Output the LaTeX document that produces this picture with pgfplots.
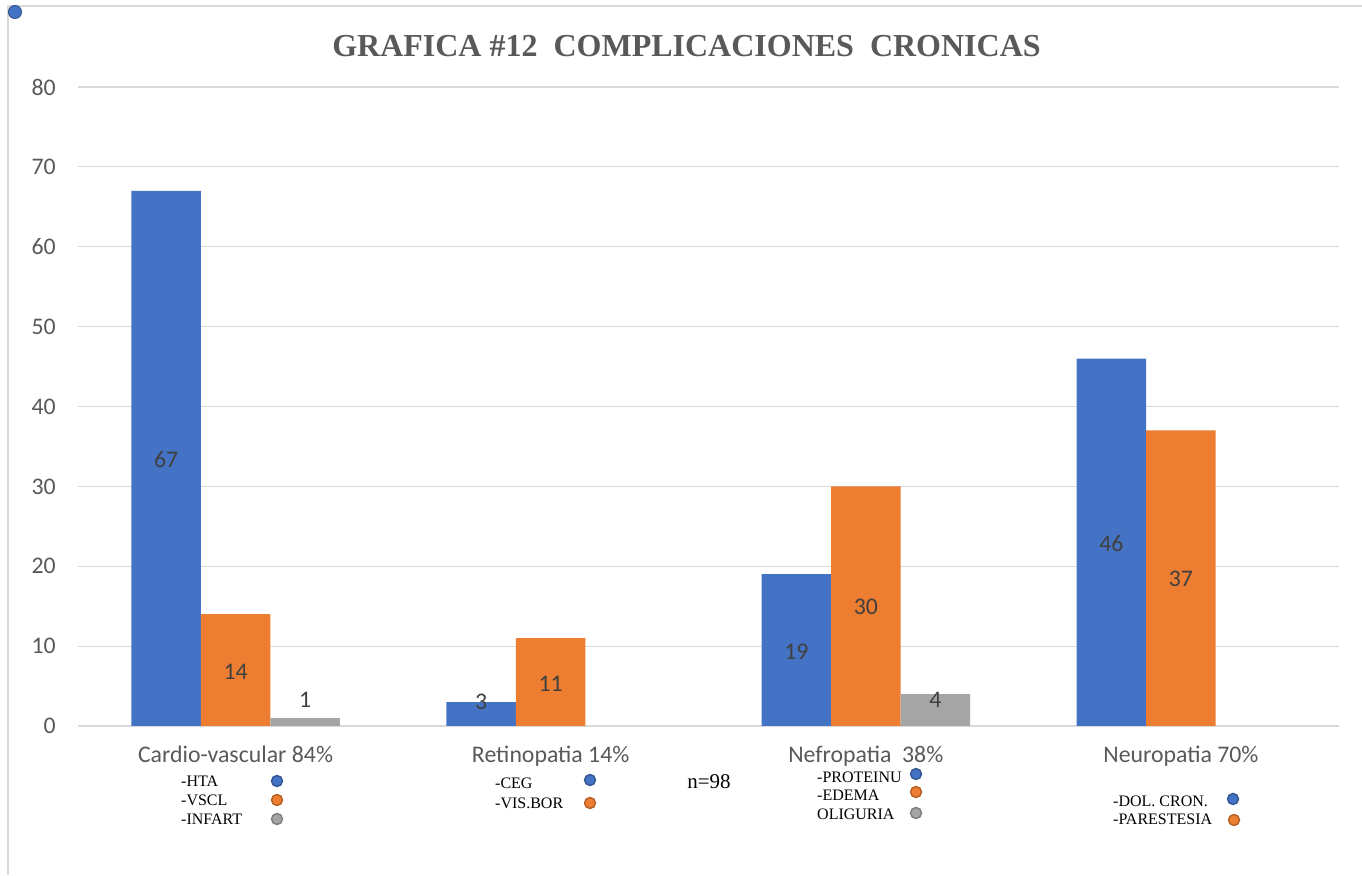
\documentclass[border=0pt]{standalone}
\usepackage{fontspec}
\setmainfont{Carlito}
\newfontfamily\tnr{Liberation Serif}
\usepackage{pgfplots}
\pgfplotsset{compat=1.18}
\definecolor{cblue}{HTML}{4472C4}
\definecolor{corange}{HTML}{ED7D31}
\definecolor{cgray}{HTML}{A5A5A5}
\definecolor{gridc}{HTML}{D9D9D9}
\definecolor{tickc}{HTML}{595959}
\definecolor{labc}{HTML}{404040}
\begin{document}
\begin{tikzpicture}[x=1pt,y=1pt]
\path[use as bounding box] (0,0) rectangle (1362,875);
\draw[gridc, line width=1.2pt] (8,0) -- (8,869) -- (1362,869);
\begin{axis}[at={(78pt,149pt)}, anchor=south west, scale only axis,
  width=1260.5pt, height=639pt,
  xmin=-0.5, xmax=3.5, ymin=0, ymax=80,
  axis line style={draw=none},
  ytick={0,10,...,80}, xtick={0,1,2,3},
  xticklabels={Cardio-vascular 84\%, Retinopatia 14\%, Nefropatia\ \ 38\%, Neuropatia 70\%},
  major tick length=0pt,
  ymajorgrids, grid style={gridc, line width=1.2pt},
  tick label style={font=\fontsize{23.8pt}{28pt}\selectfont, text=tickc},
  /pgf/number format/assume math mode=true,
  yticklabel style={anchor=east, inner sep=0pt, xshift=-22pt},
  xticklabel style={anchor=north, inner sep=0pt, yshift=-20pt},
  clip=false]
\addplot[ybar, bar width=69.5pt, bar shift=-69.5pt, fill=cblue, draw=none] coordinates {(0,67)(1,3)(2,19)(3,46)};
\addplot[ybar, bar width=69.5pt, bar shift=0pt, fill=corange, draw=none] coordinates {(0,14)(1,11)(2,30)(3,37)};
\addplot[ybar, bar width=69.5pt, bar shift=69.5pt, fill=cgray, draw=none] coordinates {(0,1)(2,4)};
\addplot[draw=none, mark=none, nodes near coords, point meta=explicit symbolic,
  every node near coord/.append style={anchor=center, inner sep=0pt, font=\fontsize{23.8pt}{28pt}\selectfont, text=labc}]
  coordinates {(-0.2205,33.3)[67] (0.7795,3.0)[3] (1.7795,9.26)[19] (2.7795,22.8)[46]
               (0,6.76)[14] (1,5.26)[11] (2,14.9)[30] (3,18.4)[37]
               (0.2205,3.26)[1] (2.2205,3.26)[4]};
\end{axis}
\node[font=\tnr\bfseries\fontsize{32pt}{38pt}\selectfont, text=tickc] at (686.5,829) {GRAFICA \#12\ \ COMPLICACIONES\ \ CRONICAS};
\fill[cblue, draw=cblue!75!black, line width=1pt] (15,863) circle (6.5);
\tikzset{lt/.style={anchor=west, inner sep=0pt, font=\tnr\fontsize{16pt}{19pt}\selectfont, text=black}}
\node[lt] at (181,94) {-HTA};
\node[lt] at (181,75) {-VSCL};
\node[lt] at (181,56) {-INFART};
\node[lt] at (495,92) {-CEG};
\node[lt] at (495,72) {-VIS.BOR};
\node[lt] at (817,98) {-PROTEINU};
\node[lt] at (817,80) {-EDEMA};
\node[lt] at (817,61) {OLIGURIA};
\node[lt] at (1113,74) {-DOL. CRON.};
\node[lt] at (1113,56) {-PARESTESIA};
\node[font=\tnr\fontsize{21pt}{25pt}\selectfont, inner sep=0pt] at (709,93) {n=98};
\tikzset{lc/.style={line width=1.4pt}}
\filldraw[lc, fill=cblue, draw=cblue!75!black] (277,94) circle (5.5);
\filldraw[lc, fill=corange, draw=corange!75!black] (277,75) circle (5.5);
\filldraw[lc, fill=cgray, draw=cgray!75!black] (277,56) circle (5.5);
\filldraw[lc, fill=cblue, draw=cblue!75!black] (590,95) circle (5.5);
\filldraw[lc, fill=corange, draw=corange!75!black] (590,72) circle (5.5);
\filldraw[lc, fill=cblue, draw=cblue!75!black] (916,101) circle (5.5);
\filldraw[lc, fill=corange, draw=corange!75!black] (916,83) circle (5.5);
\filldraw[lc, fill=cgray, draw=cgray!75!black] (916,62) circle (5.5);
\filldraw[lc, fill=cblue, draw=cblue!75!black] (1233,76) circle (5.5);
\filldraw[lc, fill=corange, draw=corange!75!black] (1234,55) circle (5.5);
\end{tikzpicture}
\end{document}
